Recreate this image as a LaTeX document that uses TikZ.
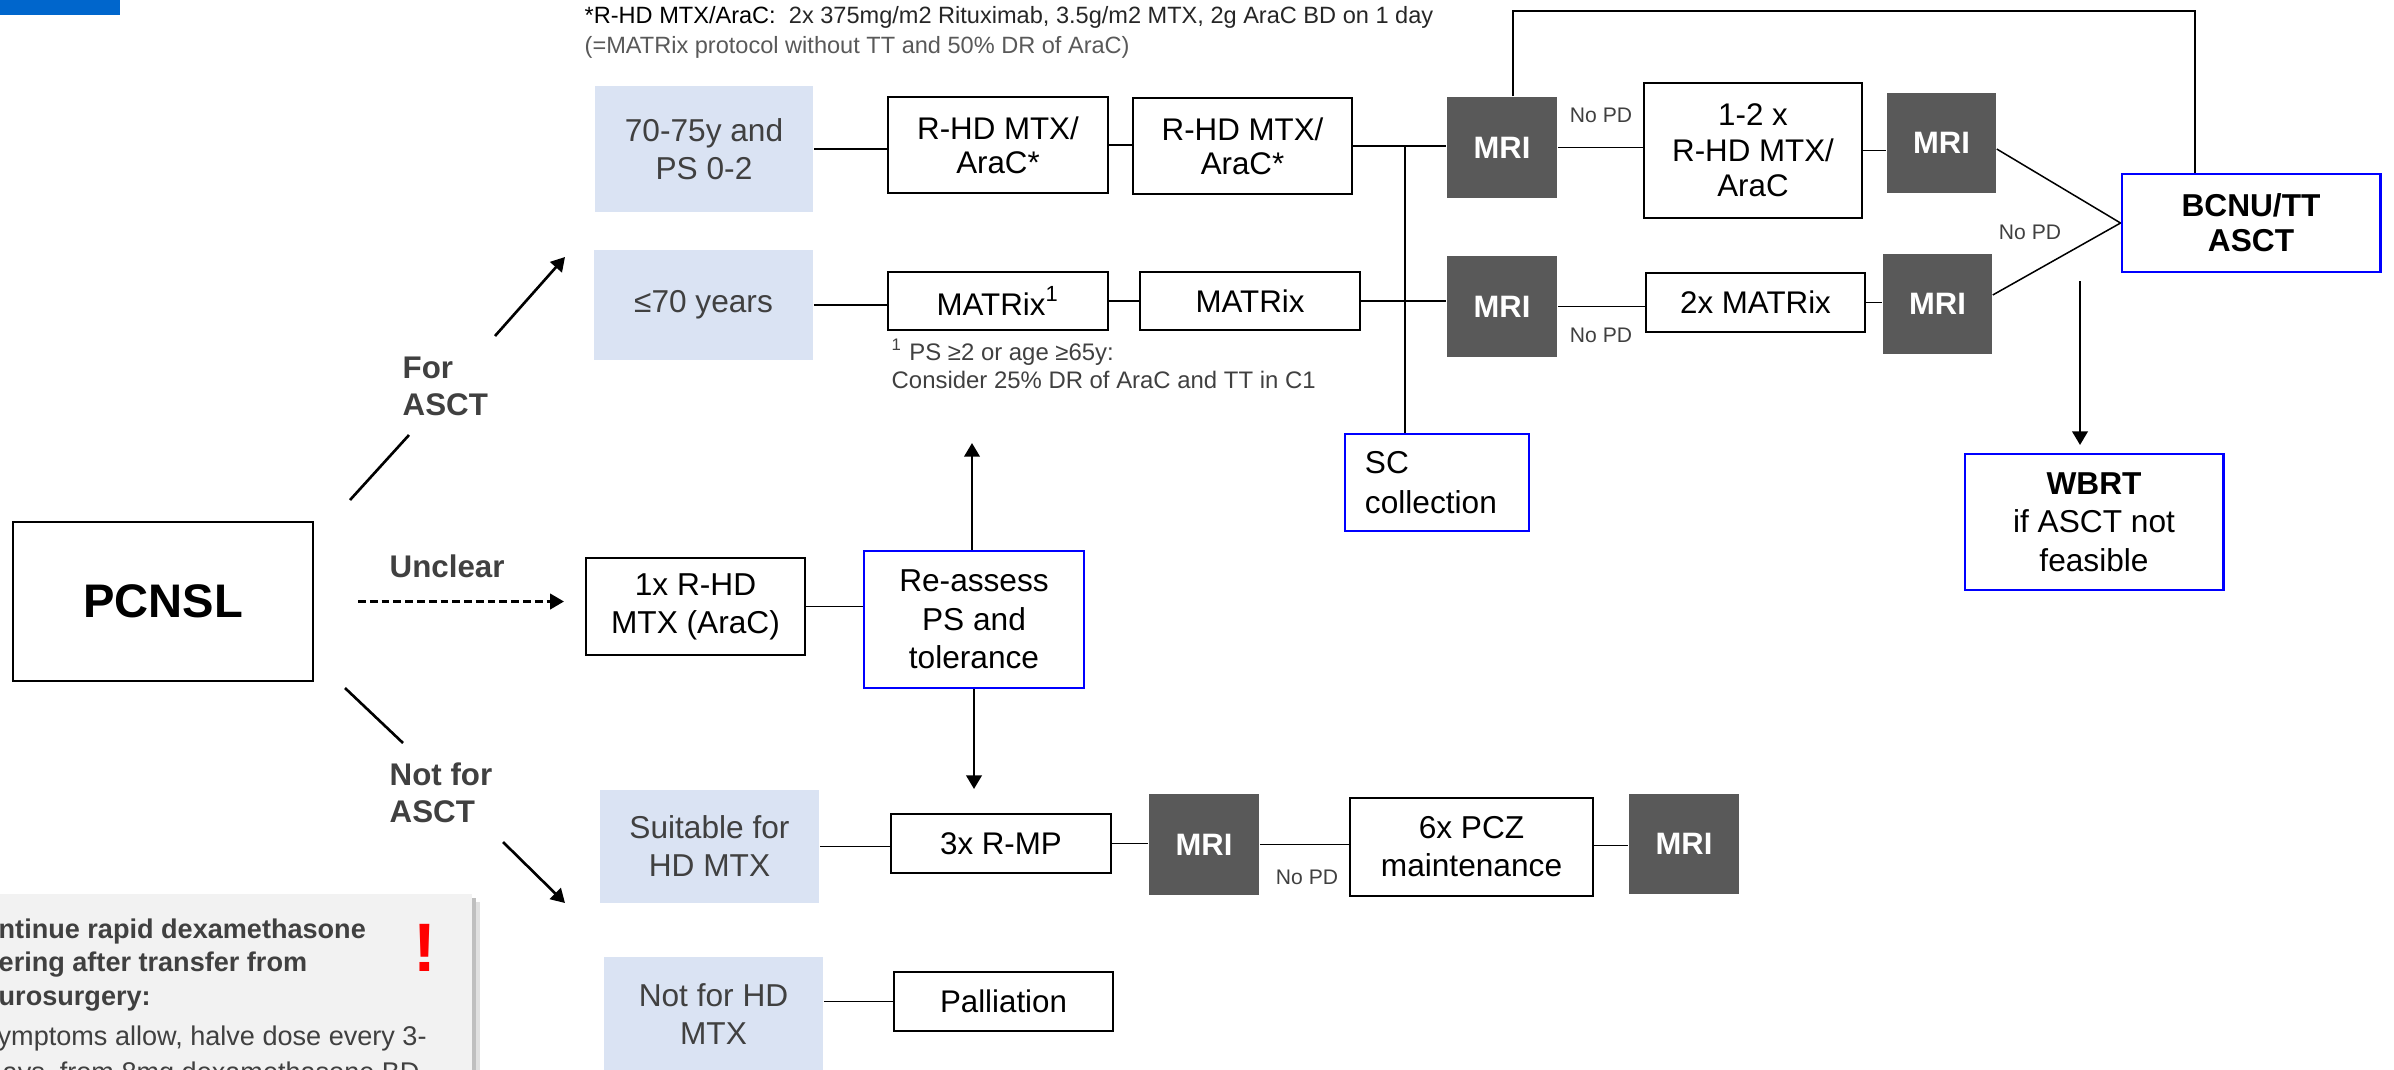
\documentclass[tikz,border=0pt]{standalone}
\usepackage{fontspec}
\setmainfont{Liberation Sans}
\usetikzlibrary{arrows.meta}
\definecolor{lblue}{RGB}{218,227,243}
\definecolor{mgray}{RGB}{89,89,89}
\definecolor{tgray}{RGB}{64,64,64}
\definecolor{bblue}{RGB}{0,0,255}
\definecolor{topbar}{RGB}{0,102,204}
\definecolor{warnfill}{RGB}{242,242,242}
\definecolor{fngray}{RGB}{89,89,89}
\newcommand\fpx[2]{\fontsize{#1}{#2}\selectfont}
\tikzset{
  plainbox/.style={draw=black, line width=0.57pt, inner sep=0pt, align=center, text=black, font=\fpx{8.9pt}{10.6pt}},
  lbbox/.style={fill=lblue, draw=none, inner sep=0pt, align=center, text=tgray, font=\fpx{9pt}{10.8pt}},
  mribox/.style={fill=mgray, draw=none, inner sep=0pt, text=white, font=\bfseries\fpx{8.8pt}{10pt}},
  bluebox/.style={draw=bblue, line width=0.8pt, inner sep=0pt, align=center, text=black, font=\fpx{9pt}{10.9pt}},
  branchlbl/.style={text=tgray, font=\bfseries\fpx{8.9pt}{10.6pt}, align=left, inner sep=0pt, anchor=west},
  nopd/.style={text=tgray, font=\fpx{6pt}{7pt}, inner sep=0pt},
  conn/.style={line width=0.43pt, draw=black},
  arrline/.style={line width=0.75pt, draw=black},
  arr/.style={line width=0.75pt, draw=black, -{Triangle[length=3.9pt,width=4.4pt]}},
  fntext/.style={anchor=west, inner sep=0pt, align=left, font=\fpx{6.7pt}{8.5pt}},
}
\begin{document}
\begin{tikzpicture}[x=0.01cm, y=-0.01cm]
\useasboundingbox (0,0) rectangle (2394,1069);
\clip (0,0) rectangle (2394,1069);

% top-left bar
\fill[topbar] (0,0) rectangle (120,15);

% footnote at top
\node[fntext, text=black] (fn1) at (584,17) {*R-HD MTX/AraC:\ \ \textcolor{black!85}{2x 375mg/m2 Rituximab, 3.5g/m2 MTX, 2g AraC BD on 1 day}};
\node[fntext, text=fngray] (fn2) at (584,47) {(=MATRix protocol without TT and 50\% DR of AraC)};

% main boxes
\node[plainbox, minimum width=3cm, minimum height=1.59cm, font=\bfseries\fpx{13.4pt}{15pt}] (PC) at (163,601.5) {PCNSL};
\node[lbbox, minimum width=2.18cm, minimum height=1.26cm] (A1) at (704,149) {70-75y and\\PS 0-2};
\node[lbbox, minimum width=2.19cm, minimum height=1.10cm] (A2) at (703.5,305) {≤70 years};
\node[plainbox, minimum width=2.20cm, minimum height=0.96cm, font=\fpx{8.9pt}{9.7pt}] (R1) at (998,145) {R-HD MTX/\\AraC*};
\node[plainbox, minimum width=2.19cm, minimum height=0.96cm, font=\fpx{8.9pt}{9.7pt}] (R2) at (1242.5,146) {R-HD MTX/\\AraC*};
\node[mribox, minimum width=1.10cm, minimum height=1.01cm] (M1) at (1502,147.5) {MRI};
\node[plainbox, minimum width=2.20cm, minimum height=0.58cm] (X1) at (998,301) {MATRix\textsuperscript{1}};
\node[plainbox, minimum width=2.20cm, minimum height=0.58cm] (X2) at (1250,301) {MATRix};
\node[mribox, minimum width=1.10cm, minimum height=1.01cm] (M2) at (1502,306.5) {MRI};
\node[plainbox, minimum width=2.18cm, minimum height=1.35cm, font=\fpx{8.9pt}{10.1pt}] (R3) at (1753,150.5) {1-2 x\\R-HD MTX/\\AraC};
\node[mribox, minimum width=1.09cm, minimum height=1.00cm] (M3) at (1941.5,143) {MRI};
\node[plainbox, minimum width=2.19cm, minimum height=0.59cm] (X3) at (1755.5,302.5) {2x MATRix};
\node[mribox, minimum width=1.09cm, minimum height=1.00cm] (M4) at (1937.5,304) {MRI};
\node[bluebox, minimum width=2.58cm, minimum height=0.98cm, font=\bfseries\fpx{9pt}{10pt}] (BC) at (2251,223) {BCNU/TT\\ASCT};
\node[bluebox, minimum width=2.58cm, minimum height=1.36cm] (WB) at (2094,522) {\textbf{WBRT}\\if ASCT not\\feasible};
\node[bluebox, text width=1.44cm, inner xsep=0.2cm, minimum height=0.97cm, align=left, font=\fpx{9pt}{11.4pt}] (SC) at (1437,482.5) {SC\\collection};
\node[plainbox, minimum width=2.19cm, minimum height=0.97cm, font=\fpx{9pt}{10.8pt}] (U1) at (695.5,606.5) {1x R-HD\\MTX (AraC)};
\node[bluebox, minimum width=2.20cm, minimum height=1.37cm] (RA) at (974,619.5) {Re-assess\\PS and\\tolerance};
\node[lbbox, minimum width=2.19cm, minimum height=1.13cm] (S1) at (709.5,846.5) {Suitable for\\HD MTX};
\node[lbbox, minimum width=2.19cm, minimum height=1.14cm] (N1) at (713.5,1014) {Not for HD\\MTX};
\node[plainbox, minimum width=2.20cm, minimum height=0.59cm] (RM) at (1001,843.5) {3x R-MP};
\node[mribox, minimum width=1.10cm, minimum height=1.01cm] (M5) at (1204,844.5) {MRI};
\node[plainbox, minimum width=2.43cm, minimum height=0.98cm, font=\fpx{9pt}{10.8pt}] (PZ) at (1471.5,847) {6x PCZ\\maintenance};
\node[mribox, minimum width=1.10cm, minimum height=1.00cm] (M6) at (1684,844) {MRI};
\node[plainbox, minimum width=2.19cm, minimum height=0.59cm] (PA) at (1003.5,1001.5) {Palliation};

% footnote under MATRix
\node[fntext, text=tgray, font=\fpx{6.8pt}{7.97pt}] (fn3) at (891,364) {\textsuperscript{1} PS ≥2 or age ≥65y:\\Consider 25\% DR of AraC and TT in C1};

% branch labels and arrows from PCNSL
\coordinate (fa1) at (350,500); \coordinate (fa2) at (409,435);
\coordinate (fa3) at (495,336); \coordinate (fa4) at (565,257);
\draw[arrline] (fa1) -- (fa2);
\draw[arr] (fa3) -- (fa4);
\node[branchlbl] (lfor) at (402,386.5) {For\\ASCT};

\draw[arr, line width=0.6pt, dash pattern=on 2.2pt off 1.15pt, shorten <=0.44cm, shorten >=0.21cm] (PC.east) -- (PC.east -| U1.west);
\node[branchlbl] (lunc) at (389,566) {Unclear};

\coordinate (na1) at (345,688); \coordinate (na2) at (403,743);
\coordinate (na3) at (503,842); \coordinate (na4) at (565,903);
\draw[arrline] (na1) -- (na2);
\draw[arr] (na3) -- (na4);
\node[branchlbl] (lnot) at (389,793) {Not for\\ASCT};

% connectors upper rows
\draw[conn] (A1.east) -- (A1.east -| R1.west);
\draw[conn] (R1.east) -- (R1.east -| R2.west);
\draw[conn] (R2.east) -- (R2.east -| M1.west);
\coordinate (J1) at (1405,145);
\draw[conn] (J1) -- (J1 |- SC.north);
\draw[conn] (A2.east) -- (A2.east -| X1.west);
\draw[conn] (X1.east) -- (X1.east -| X2.west);
\draw[conn] (X2.east) -- (X2.east -| M2.west);
\draw[conn] (M1.east) -- (M1.east -| R3.west);
\draw[conn] (R3.east) -- (R3.east -| M3.west);
\draw[conn] (M2.east) -- (M2.east -| X3.west);
\draw[conn] (X3.east) -- (X3.east -| M4.west);
\draw[conn] ([yshift=-0.06cm]M3.east) -- (BC.west);
\draw[conn] ([yshift=0.09cm]M4.east) -- (BC.west);
\coordinate (T1) at (1513,11);
\coordinate (T2) at (2195,11);
\draw[conn] (T1 |- M1.north) -- (T1) -- (T2) -- (T2 |- BC.north);
\coordinate (wbx) at (2080,445);
\draw[arr, shorten <=0.08cm] (wbx |- BC.south) -- (wbx);

\node[nopd] (np1) at (1601,115) {No PD};
\node[nopd] (np2) at (1601,335) {No PD};
\node[nopd] (np3) at (2030,232) {No PD};
\node[nopd] (np4) at (1307,877) {No PD};

% lower part connectors
\draw[conn] (U1.east) -- (U1.east -| RA.west);
\coordinate (upTip) at (972,443);
\coordinate (dnTip) at (974,789);
\draw[arr] (upTip |- RA.north) -- (upTip);
\draw[arr] (RA.south) -- (dnTip);
\draw[conn] (S1.east) -- (S1.east -| RM.west);
\draw[conn] (RM.east) -- (RM.east -| M5.west);
\draw[conn] (M5.east) -- (M5.east -| PZ.west);
\draw[conn, line width=0.35pt] ([yshift=-0.012cm]M6.west -| PZ.east) -- ([yshift=-0.012cm]M6.west);
\draw[conn] (PA.west -| N1.east) -- (PA.west);

% warning box (cut by the picture edges)
\fill[black!12] (-20,902) rectangle (480,1100);
\fill[black!25] (-20,898) rectangle (476,1100);
\fill[warnfill] (-20,894) rectangle (472,1100);
\node[anchor=west, inner sep=0pt, text=tgray, font=\bfseries\fpx{7.7pt}{9.4pt}, align=left] (w1) at (-2,965) {ntinue rapid dexamethasone\\ering after transfer from\\urosurgery:};
\node[anchor=west, inner sep=0pt, text=tgray, font=\fpx{7.7pt}{9.4pt}] (w2) at (-3,1038) {ymptoms allow, halve dose every 3-};
\node[anchor=west, inner sep=0pt, text=tgray, font=\fpx{7.7pt}{9.4pt}] (w3) at (2,1074) {ays, from 8mg dexamethasone BD};
\node[text=red, font=\bfseries\fpx{19.5pt}{20pt}, inner sep=0pt] (excl) at (425,948) {!};
\end{tikzpicture}
\end{document}
